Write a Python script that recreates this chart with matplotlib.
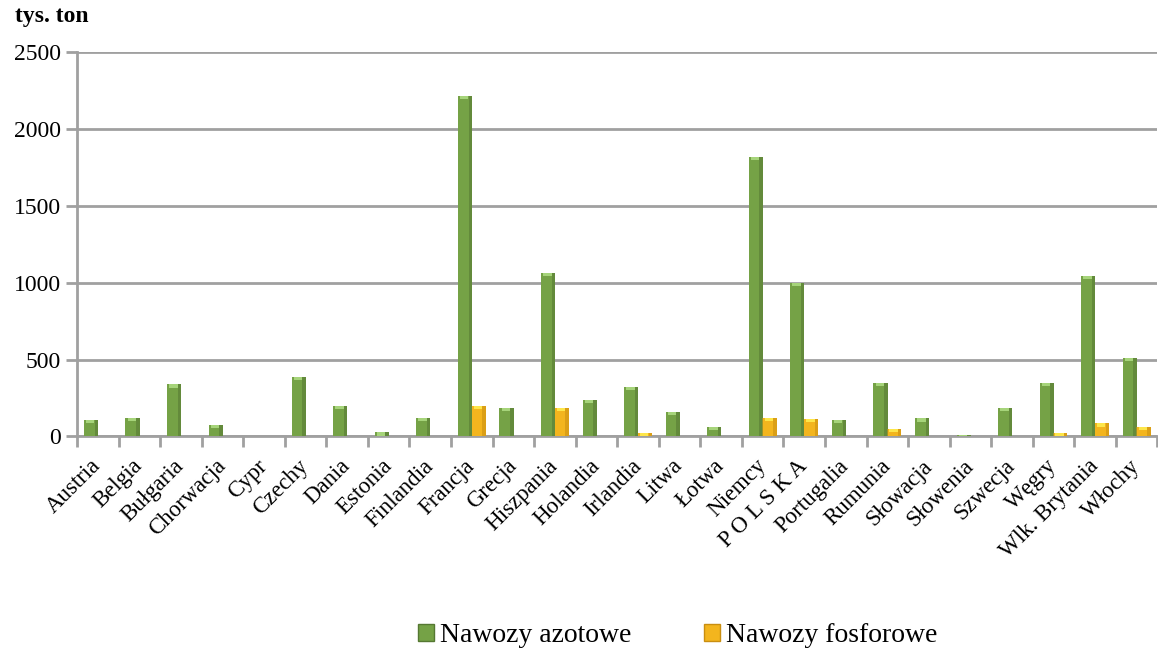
import numpy as np
from matplotlib import pyplot as plt
from matplotlib.patches import Patch

countries = ["Austria", "Belgia", "Bułgaria", "Chorwacja", "Cypr", "Czechy",
             "Dania", "Estonia", "Finlandia", "Francja", "Grecja", "Hiszpania",
             "Holandia", "Irlandia", "Litwa", "Łotwa", "Niemcy", "P O L S K A",
             "Portugalia", "Rumunia", "Słowacja", "Słowenia", "Szwecja", "Węgry",
             "Wlk. Brytania", "Włochy"]

# thousand tonnes
nitrogen = [110, 123, 338, 76, 2, 388, 199, 26, 120, 2214, 185, 1063,
            237, 322, 159, 62, 1817, 998, 107, 348, 118, 8, 185, 348,
            1043, 510]
phosphorus = [3, 2, 6, 2, 1, 6, 2, 2, 2, 198, 5, 185,
              2, 23, 5, 2, 120, 115, 5, 49, 3, 1, 2, 23,
              86, 62]

series_labels = ["Nawozy azotowe", "Nawozy fosforowe"]

plt.rcParams['font.family'] = ['Liberation Serif', 'DejaVu Serif']

GREEN = ("#75A246", "#557832", "#A6D47A")
YELLOW = ("#F3B51E", "#C98E10", "#FDE64A")


def draw_bars(ax, x, values, colors, width):
    main, side, cap = colors
    values = np.asarray(values, dtype=float)
    ax.bar(x, values, width=width, color=main, zorder=3, linewidth=0)
    # darker strip on the right side
    ax.bar(x + width * 0.38, values, width=width * 0.24, color=side,
           alpha=0.55, zorder=4, linewidth=0)
    # light cap on top
    cap_h = np.minimum(values, 22)
    ax.bar(x - width * 0.05, cap_h, bottom=values - cap_h, width=width * 0.6,
           color=cap, zorder=5, linewidth=0)


fig = plt.figure(figsize=(11.58, 6.5), dpi=100)
ax = fig.add_axes([0.0665, 0.3285, 0.933, 0.5915])

x = np.arange(len(countries))
w = 0.34
draw_bars(ax, x - 0.165, nitrogen, GREEN, w)
draw_bars(ax, x + 0.165, phosphorus, YELLOW, w)

ax.set_xlim(-0.5, len(countries) - 0.5)
ax.set_ylim(0, 2500)
ax.set_yticks(np.arange(0, 2501, 500))
ax.yaxis.grid(True, color="#A0A0A0", linewidth=2, zorder=0)
ax.set_axisbelow(True)

for s in ["top", "right"]:
    ax.spines[s].set_visible(False)
ax.spines["left"].set_color("#A0A0A0")
ax.spines["left"].set_linewidth(2)
ax.spines["bottom"].set_color("#A0A0A0")
ax.spines["bottom"].set_linewidth(2)

ax.set_xticks(x)
ax.set_xticklabels(countries, rotation=45, ha="right", va="center",
                   rotation_mode="anchor", fontsize=16.5)
ax.tick_params(axis="x", length=0, pad=19)
ax.set_xticks(np.arange(len(countries) + 1) - 0.5, minor=True)
ax.tick_params(axis="x", which="minor", length=8, width=2, color="#A0A0A0")
ax.tick_params(axis="y", length=8, width=2, color="#A0A0A0", labelsize=17)

fig.text(0.013, 0.975, "tys. ton", fontsize=17, fontweight="bold", va="center")

handles = [Patch(facecolor=GREEN[0], edgecolor=GREEN[1]),
           Patch(facecolor=YELLOW[0], edgecolor=YELLOW[1])]
fig.legend(handles, series_labels, loc="center", bbox_to_anchor=(0.585, 0.022),
           ncol=2, frameon=False, fontsize=20, handlelength=0.6,
           handleheight=0.6, handletextpad=0.2, columnspacing=2.6)

fig.savefig("out.png", dpi=100)
